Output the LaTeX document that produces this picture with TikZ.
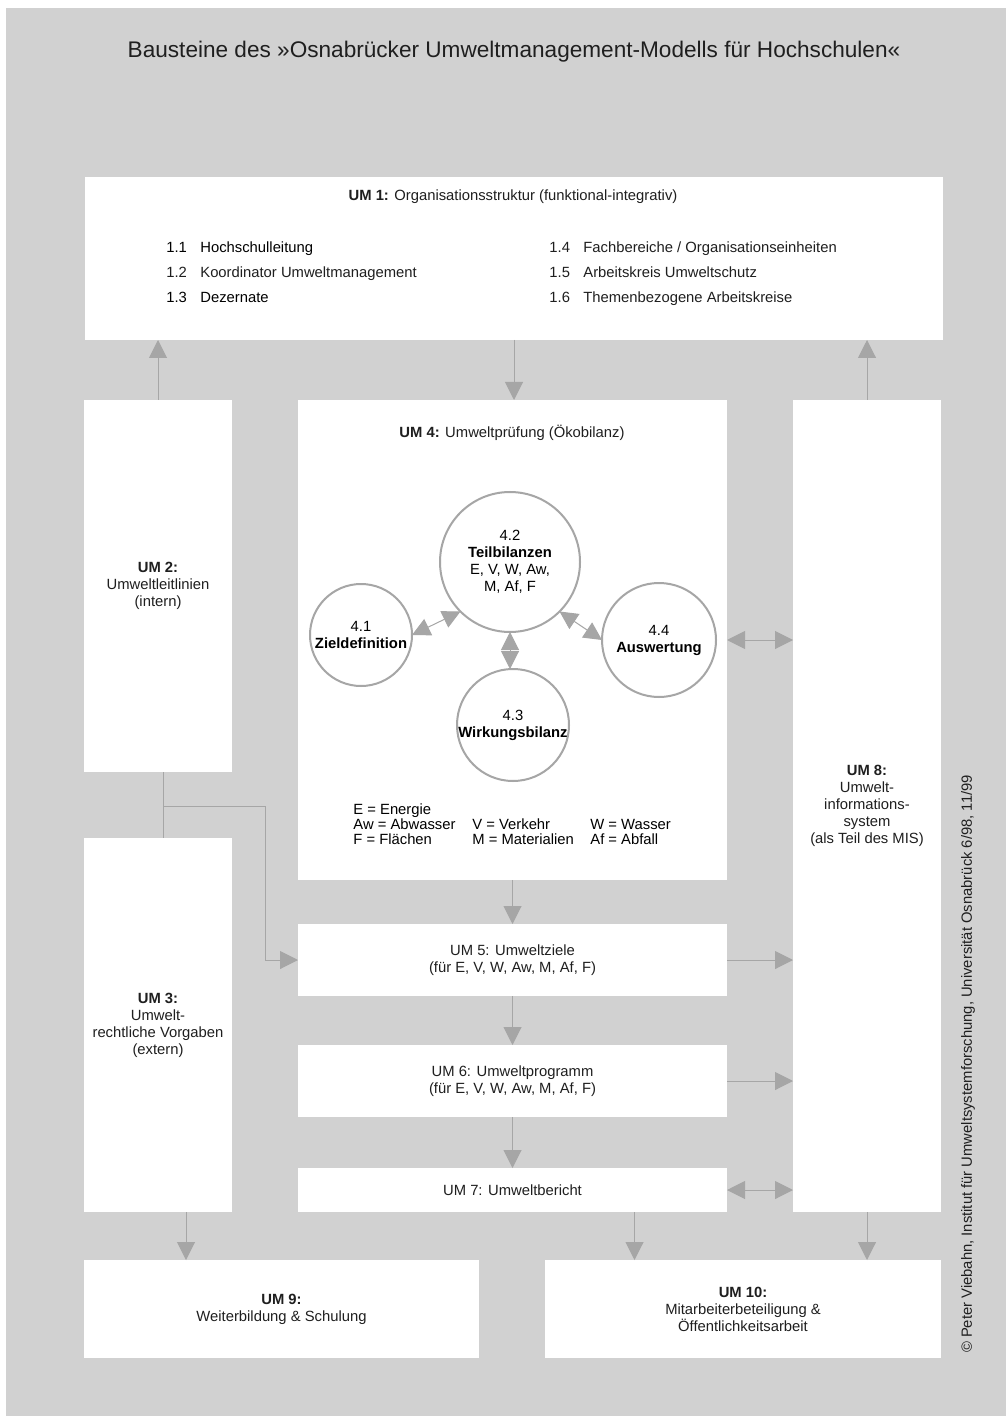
\documentclass[tikz,border=0pt]{standalone}
\usepackage{fontspec}
\setmainfont{Liberation Sans}
\usetikzlibrary{arrows.meta,calc}
\definecolor{bggray}{HTML}{D1D1D1}
\definecolor{arrgray}{HTML}{A6A6A6}
\definecolor{txtgray}{HTML}{1F1F1F}
\tikzset{
  ubox/.style={fill=white, inner sep=0pt, outer sep=0pt, align=center, text=txtgray,
    font=\fontsize{7.4}{8.5}\selectfont},
  circ/.style={circle, draw=arrgray, line width=1pt, fill=white, inner sep=0pt, outer sep=0pt},
  txt/.style={inner sep=0pt, text=txtgray, align=center, font=\fontsize{7.4}{8.5}\selectfont},
  flow/.style={draw=arrgray, line width=0.5pt, -{Triangle[length=9pt,width=9pt]}},
  dflow/.style={draw=arrgray, line width=0.5pt,
    {Triangle[length=9pt,width=9pt]}-{Triangle[length=9pt,width=9pt]}},
  link/.style={draw=arrgray, line width=0.5pt}
}

\begin{document}
\begin{tikzpicture}[x=0.5pt,y=-0.5pt]
  \useasboundingbox (0,0) rectangle (1006,1416);
  \fill[white] (0,0) rectangle (1006,1416);
  \fill[bggray] (6,8) rectangle (1006,1416);

  \node[txt, font=\fontsize{11.3}{13}\selectfont] (title) at (514,52) {Bausteine des »Osnabrücker Umweltmanagement-Modells für Hochschulen«};

  % UM 1
  \node[ubox, minimum width=429pt, minimum height=81.5pt] (um1) at (514,258.5) {};
  \node[txt] (um1head) at (513,197) {\textbf{UM 1:} Organisationsstruktur (funktional-integrativ)};
  \node[txt, anchor=base west, text=black] (i11) at (166,253) {\makebox[17pt][l]{1.1}Hochschulleitung};
  \node[txt, anchor=base west] (i12) at (166,278) {\makebox[17pt][l]{1.2}Koordinator Umweltmanagement};
  \node[txt, anchor=base west, text=black] (i13) at (166,303) {\makebox[17pt][l]{1.3}Dezernate};
  \node[txt, anchor=base west] (i14) at (549,253) {\makebox[17pt][l]{1.4}Fachbereiche / Organisationseinheiten};
  \node[txt, anchor=base west] (i15) at (549,278) {\makebox[17pt][l]{1.5}Arbeitskreis Umweltschutz};
  \node[txt, anchor=base west] (i16) at (549,303) {\makebox[17pt][l]{1.6}Themenbezogene Arbeitskreise};

  \node[ubox, minimum width=74pt, minimum height=186pt] (um2) at (158,586) {\textbf{UM 2:}\\Umweltleitlinien\\(intern)};
  \node[ubox, minimum width=74pt, minimum height=187pt] (um3) at (158,1025) {\textbf{UM 3:}\\Umwelt-\\rechtliche Vorgaben\\(extern)};
  \node[ubox, minimum width=74pt, minimum height=406pt] (um8) at (867,806) {\textbf{UM 8:}\\Umwelt-\\informations-\\system\\(als Teil des MIS)};

  % UM 4 mit Kreisen
  \node[ubox, minimum width=214.5pt, minimum height=240pt] (um4) at (512.5,640) {};
  \node[txt] (um4head) at (512,433) {\textbf{UM 4:} Umweltprüfung (Ökobilanz)};
  \node[circ, minimum size=70pt] (c42) at (510,562) {};
  \node[txt, text=black] (t42) at (c42) {4.2\\\textbf{Teilbilanzen}\\E, V, W, Aw,\\M, Af, F};
  \node[circ, minimum size=51pt] (c41) at (361,635) {};
  \node[txt, text=black] (t41) at (c41) {4.1\\\textbf{Zieldefinition}};
  \node[circ, minimum size=57pt] (c44) at (659,640) {};
  \node[txt, text=black] (t44) at (c44) {4.4\\\textbf{Auswertung}};
  \node[circ, minimum size=56pt] (c43) at (513,725) {};
  \node[txt, text=black] (t43) at (c43) {4.3\\\textbf{Wirkungsbilanz}};
  \draw[dflow] (c41.east) -- (c42.225);
  \draw[dflow] (c42.-45) -- (c44.west);
  \draw[dflow] (c42.south) -- (c42.south |- c43.north);
  \node[txt, anchor=west, text=black] (legend) at (353,826) {%
    \begin{tabular}{@{}p{59.5pt}@{}p{59pt}@{}l@{}}
      E = Energie & & \\[-1.2pt]
      Aw = Abwasser & V = Verkehr & W = Wasser \\[-1.2pt]
      F = Flächen & M = Materialien & Af = Abfall
    \end{tabular}};

  \node[ubox, minimum width=214.5pt, minimum height=36pt] (um5) at (512.5,960) {UM 5: Umweltziele\\(für E, V, W, Aw, M, Af, F)};
  \node[ubox, minimum width=214.5pt, minimum height=36pt] (um6) at (512.5,1081) {UM 6: Umweltprogramm\\(für E, V, W, Aw, M, Af, F)};
  \node[ubox, minimum width=214.5pt, minimum height=22pt] (um7) at (512.5,1190) {UM 7: Umweltbericht};
  \node[ubox, minimum width=197.5pt, minimum height=49pt] (um9) at (281.5,1309) {\textbf{UM 9:}\\Weiterbildung \& Schulung};
  \node[ubox, minimum width=198pt, minimum height=49pt] (um10) at (743,1309) {\textbf{UM 10:}\\Mitarbeiterbeteiligung \&\\Öffentlichkeitsarbeit};

  \node[txt, rotate=90] (copy) at (968,1064) {© Peter Viebahn, Institut für Umweltsystemforschung, Universität Osnabrück 6/98, 11/99};

  % Verbindungen
  \draw[flow] (um2.north) -- (um2.north |- um1.south);
  \draw[flow] (um1.south) -- (um1.south |- um4.north);
  \draw[flow] (um8.north) -- (um8.north |- um1.south);
  \draw[dflow] (um4.east) -- (um4.east -| um8.west);
  \draw[link] ([xshift=2.5pt]um2.south) -- ([xshift=2.5pt]um3.north);
  \coordinate (split) at (163,806);
  \coordinate (bend) at (265,806);
  \draw[flow] (split) -- (bend) |- (um5.west);
  \draw[flow] (um4.south) -- (um5.north);
  \draw[flow] (um5.east) -- (um5.east -| um8.west);
  \draw[flow] (um5.south) -- (um6.north);
  \draw[flow] (um6.east) -- (um6.east -| um8.west);
  \draw[flow] (um6.south) -- (um7.north);
  \draw[dflow] (um7.east) -- (um7.east -| um8.west);
  \draw[flow] ([xshift=14pt]um3.south) -- ([xshift=14pt]um3.south |- um9.north);
  \draw[flow] ([xshift=61pt]um7.south) -- ([xshift=61pt]um7.south |- um10.north);
  \draw[flow] (um8.south) -- (um8.south |- um10.north);
\end{tikzpicture}
\end{document}
